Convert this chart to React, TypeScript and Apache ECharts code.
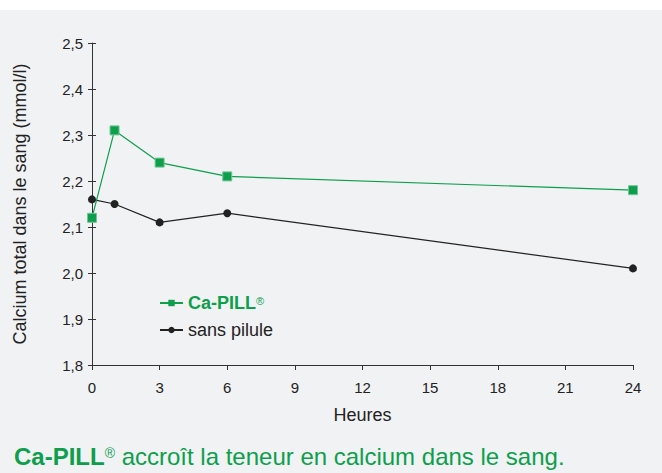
import React, { useEffect, useRef } from "react";
import * as echarts from "echarts";

const hours = [0, 1, 3, 6, 24];
const caPill = [2.12, 2.31, 2.24, 2.21, 2.18];
const sansPilule = [2.16, 2.15, 2.11, 2.13, 2.01];
const seriesNames = ["Ca-PILL", "sans pilule"];
const yAxisName = "Calcium total dans le sang (mmol/l)";
const xAxisName = "Heures";
const captionBold = "Ca-PILL";
const captionRest = " accroît la teneur en calcium dans le sang.";

const GREEN = "#0d9f4c";
const DARK = "#222222";
const FONT = "Liberation Sans, Arial, Helvetica, sans-serif";

export default function App() {
  const ref = useRef<HTMLDivElement>(null);
  useEffect(() => {
    if (!ref.current) return;
    const chart = echarts.init(ref.current, undefined, { renderer: "svg" });
    const fmt = (v: number) => v.toFixed(1).replace(".", ",");
    const yBase = {
      type: "value",
      min: 1.8,
      max: 2.5,
      interval: 0.1,
      splitLine: { show: false },
    };
    chart.setOption({
      animation: false,
      backgroundColor: "#ffffff",
      textStyle: { fontFamily: FONT },
      graphic: [
        {
          type: "rect",
          z: -10,
          silent: true,
          shape: { x: 0, y: 10, width: 662, height: 463 },
          style: { fill: "#f1f2f4" },
        },
      ],
      title: {
        left: 9,
        top: 439,
        text: `{b|${captionBold}}{s|®}{n|${captionRest}}`,
        textStyle: {
          rich: {
            b: { fontFamily: FONT, fontWeight: "bold", fontSize: 24, color: GREEN },
            s: { fontFamily: FONT, fontWeight: "normal", fontSize: 14, color: GREEN, verticalAlign: "top", padding: [2, 0, 6, 0] },
            n: { fontFamily: FONT, fontWeight: "normal", fontSize: 24, color: GREEN },
          },
        },
      },
      legend: {
        left: 154,
        top: 289,
        orient: "vertical",
        itemGap: 9,
        itemWidth: 23,
        itemHeight: 8,
        itemStyle: { borderWidth: 0 },
        data: seriesNames,
        formatter: (name: string) =>
          name === "Ca-PILL" ? `{g|${name}}{s|®}` : `{k|${name}}`,
        textStyle: {
          rich: {
            g: { fontFamily: FONT, fontWeight: "bold", fontSize: 18, color: GREEN },
            s: { fontFamily: FONT, fontSize: 11, color: GREEN, verticalAlign: "top", padding: [1, 0, 6, 0] },
            k: { fontFamily: FONT, fontSize: 18, color: DARK },
          },
        },
      },
      grid: { left: 92, right: 29, top: 43, bottom: 108, containLabel: false },
      xAxis: {
        type: "value",
        min: 0,
        max: 24,
        interval: 3,
        name: xAxisName,
        nameLocation: "middle",
        nameGap: 41,
        nameTextStyle: { fontFamily: FONT, fontSize: 18, color: DARK, verticalAlign: "top" },
        axisLine: { lineStyle: { color: "#333", width: 1 } },
        axisTick: { length: 5, lineStyle: { color: "#333" } },
        axisLabel: { fontFamily: FONT, fontSize: 15, color: DARK, margin: 15 },
        splitLine: { show: false },
      },
      yAxis: [
        {
          ...yBase,
          name: yAxisName,
          nameLocation: "middle",
          nameGap: 63,
          nameTextStyle: { fontFamily: FONT, fontSize: 18, color: DARK },
          axisLine: { show: true, lineStyle: { color: "#333", width: 1 } },
          axisTick: { show: true, length: 4, lineStyle: { color: "#333" } },
          axisLabel: { fontFamily: FONT, fontSize: 15, color: DARK, margin: 9, formatter: fmt },
        },
        {
          ...yBase,
          position: "left",
          axisLine: { show: false },
          axisTick: { show: true, inside: true, length: 4, lineStyle: { color: "#333" } },
          axisLabel: { show: false },
        },
      ],
      series: [
        {
          name: seriesNames[0],
          type: "line",
          data: hours.map((h, i) => [h, caPill[i]]),
          symbol: "rect",
          symbolSize: 9,
          lineStyle: { color: GREEN, width: 1.2 },
          itemStyle: { color: GREEN, borderColor: "#72c497", borderWidth: 1 },
          z: 3,
        },
        {
          name: seriesNames[1],
          type: "line",
          data: hours.map((h, i) => [h, sansPilule[i]]),
          symbol: "circle",
          symbolSize: 8,
          lineStyle: { color: DARK, width: 1.2 },
          itemStyle: { color: DARK },
          z: 2,
        },
      ],
    });
    return () => chart.dispose();
  }, []);
  return (
    <div
      ref={ref}
      style={{ position: "fixed", left: 0, top: 0, width: 662, height: 473 }}
    />
  );
}
